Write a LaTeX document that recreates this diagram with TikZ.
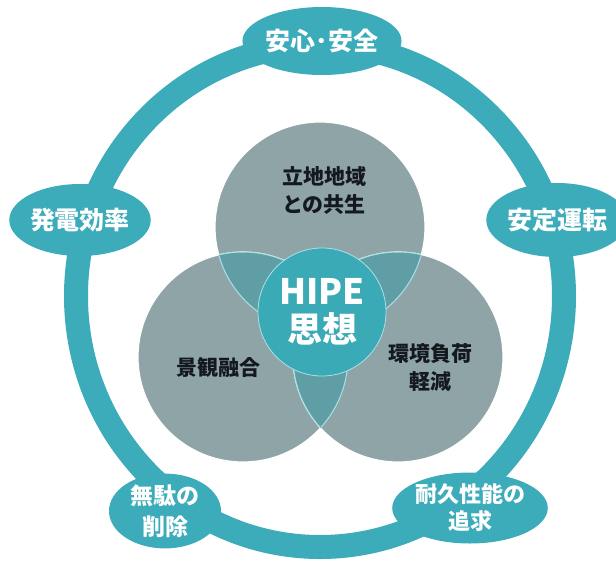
\documentclass[tikz,border=0pt]{standalone}
\usepackage{fontspec}
\setmainfont{Noto Sans CJK JP}
\usetikzlibrary{shapes.geometric}
\definecolor{ringteal}{RGB}{60,172,186}
\definecolor{hipeteal}{RGB}{58,170,182}
\definecolor{cgray}{RGB}{143,164,167}
\definecolor{lens}{RGB}{96,158,165}
\definecolor{lensline}{RGB}{170,225,232}
\definecolor{ctext}{RGB}{20,25,30}
\tikzset{
  pill/.style={ellipse, fill=ringteal, inner sep=0pt, text=white, align=center,
    font=\bfseries\fontsize{25}{30}\selectfont},
  bubble/.style={circle, minimum size=210pt, inner sep=0pt, fill=cgray, draw=white, line width=1.2pt},
  ctxt/.style={text=ctext, align=center, font=\bfseries\fontsize{21}{28}\selectfont},
  ringline/.style={draw=ringteal, line width=24pt},
}
\begin{document}
\begin{tikzpicture}[x=1pt,y=-1pt]
\useasboundingbox (0,0) rectangle (616,560);
% ring
\coordinate (rc) at (320,296);
\draw[ringline] (rc) ellipse [x radius=244pt, y radius=251pt];
% ellipses on the ring
\node[pill, minimum width=150pt, minimum height=68pt] (p1) at (322,41) {安心･安全};
\node[pill, minimum width=136pt, minimum height=72pt] (p2) at (80,220) {発電効率};
\node[pill, minimum width=128pt, minimum height=74pt] (p3) at (557,220) {安定運転};
\node[pill, minimum width=112pt, minimum height=73pt, font=\bfseries\fontsize{23}{31}\selectfont] (p4) at (165,511) {無駄の\\削除};
\node[pill, minimum width=134pt, minimum height=71pt, font=\bfseries\fontsize{22}{27}\selectfont] (p5) at (470,508) {耐久性能の\\追求};
% three circles
\node[bubble] (c1) at (320,227) {};
\node[bubble] (c2) at (243,357) {};
\node[bubble] (c3) at (398,357) {};
% lenses
\begin{scope}
  \clip (c1.center) circle (105pt);
  \fill[lens] (c2.center) circle (105pt);
  \fill[lens] (c3.center) circle (105pt);
\end{scope}
\begin{scope}
  \clip (c2.center) circle (105pt);
  \fill[lens] (c3.center) circle (105pt);
\end{scope}
% inner arcs
\begin{scope}
  \clip (c1.center) circle (104.4pt);
  \draw[lensline, line width=1pt] (c2.center) circle (105pt);
  \draw[lensline, line width=1pt] (c3.center) circle (105pt);
\end{scope}
\begin{scope}
  \clip (c2.center) circle (104.4pt);
  \draw[lensline, line width=1pt] (c1.center) circle (105pt);
  \draw[lensline, line width=1pt] (c3.center) circle (105pt);
\end{scope}
\begin{scope}
  \clip (c3.center) circle (104.4pt);
  \draw[lensline, line width=1pt] (c1.center) circle (105pt);
  \draw[lensline, line width=1pt] (c2.center) circle (105pt);
\end{scope}
% center circle
\node[circle, minimum size=128pt, inner sep=0pt, fill=hipeteal, draw=lensline, line width=0.8pt,
  text=white, align=center, font=\bfseries\fontsize{35}{40}\selectfont] (hipe) at (322,312)
  {HIPE\\[-2pt]思想};
% circle texts
\node[ctxt] (t1) at (324,191) {立地地域\\との共生};
\node[ctxt] (t2) at (218,367) {景観融合};
\node[ctxt] (t3) at (430,368) {環境負荷\\軽減};
\end{tikzpicture}
\end{document}
